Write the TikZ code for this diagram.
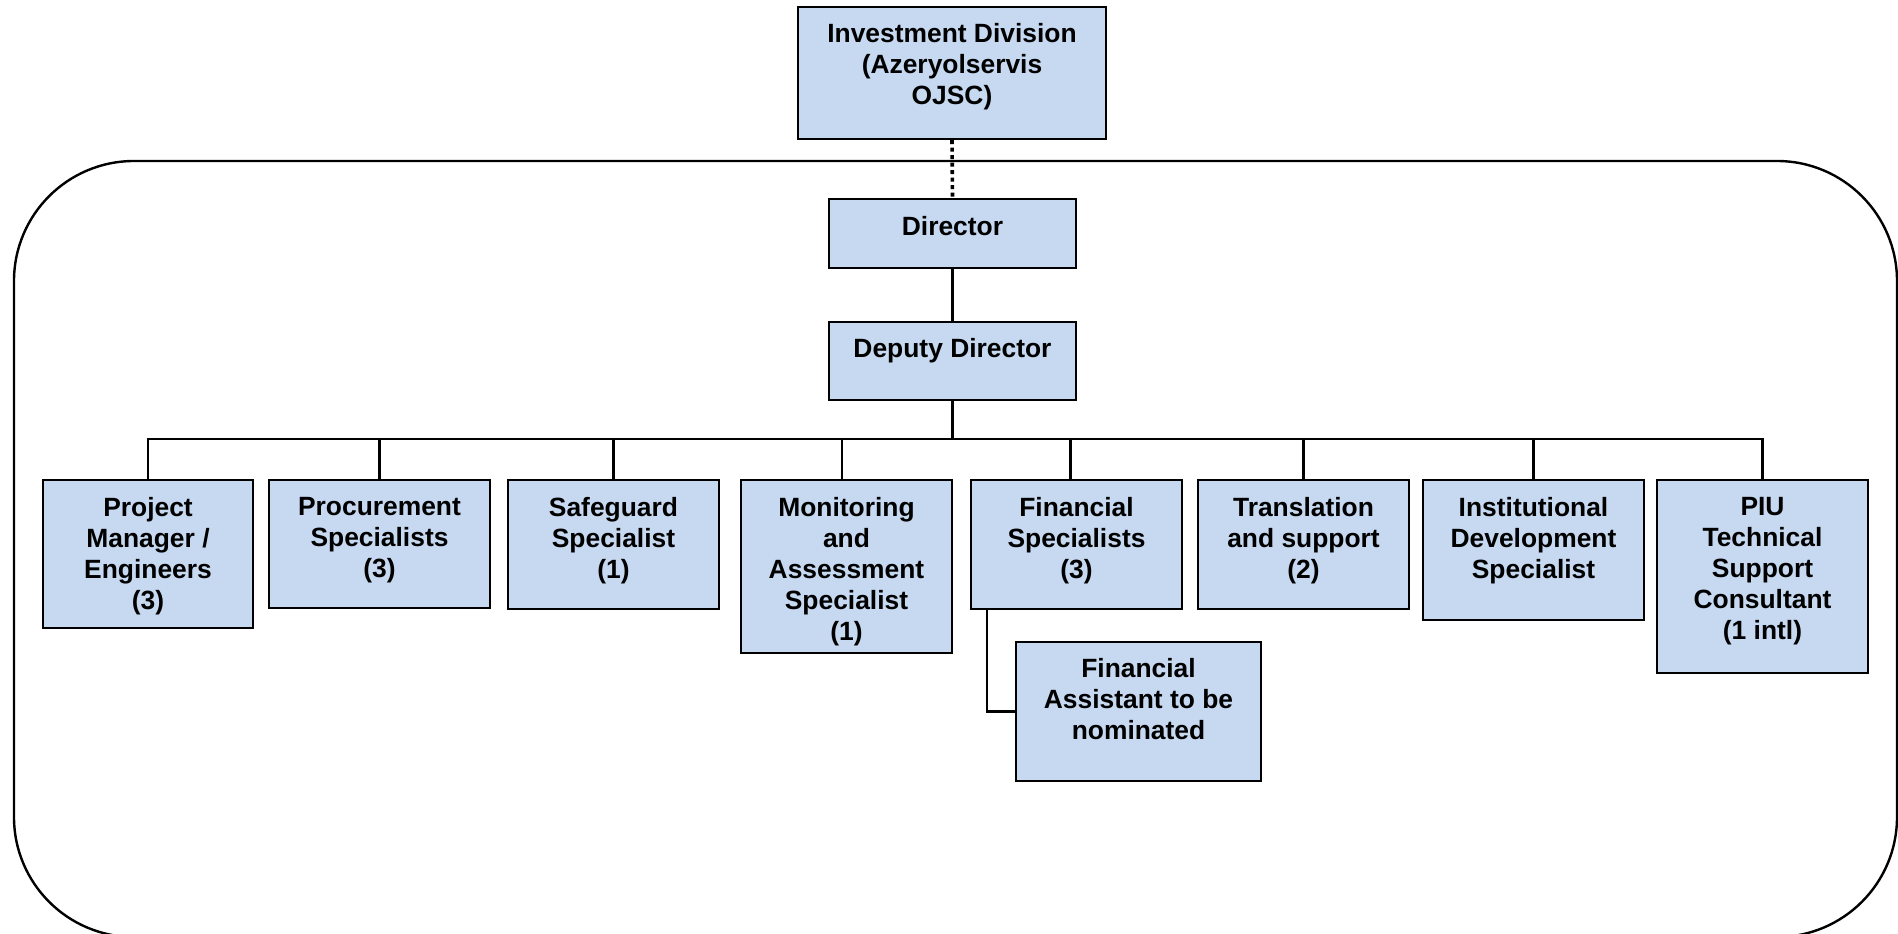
\documentclass[tikz,border=0pt]{standalone}
\usepackage{fontspec}
\setmainfont{Liberation Sans}
\usetikzlibrary{fit}
\definecolor{boxblue}{RGB}{198,217,241}
\begin{document}
\begin{tikzpicture}[x=1pt,y=-1pt,
  orgbox/.style={draw=black, line width=2.2pt, fill=boxblue, inner sep=0pt},
  orgtext/.style={anchor=north, inner sep=0pt, align=center,
    font=\bfseries\fontsize{26.4}{31}\selectfont},
  link/.style={line width=2.4pt},
  dotlink/.style={line width=3.6pt, dash pattern=on 4pt off 3.5pt}]
\useasboundingbox (0,0) rectangle (1898,934);

% frame
\draw[line width=2.4pt, rounded corners=120pt] (14,161) rectangle (1897,937);

% boxes
\node[orgbox, fit={(798,7) (1106,139)}] (inv) {};
\node[orgbox, fit={(829,199) (1076,268)}] (dir) {};
\node[orgbox, fit={(829,322) (1076,400)}] (dep) {};
\node[orgbox, fit={(43,480) (253,628)}] (pm) {};
\node[orgbox, fit={(269,480) (490,608)}] (proc) {};
\node[orgbox, fit={(508,480) (719,609)}] (safe) {};
\node[orgbox, fit={(741,480) (952,653)}] (mon) {};
\node[orgbox, fit={(971,480) (1182,609)}] (fin) {};
\node[orgbox, fit={(1198,480) (1409,609)}] (trans) {};
\node[orgbox, fit={(1423,480) (1644,620)}] (inst) {};
\node[orgbox, fit={(1657,480) (1868,673)}] (piu) {};
\node[orgbox, fit={(1016,642) (1261,781)}] (fa) {};

% texts
\path (inv.north) ++(0,17) node[orgtext] (inv-t) {Investment Division\\(Azeryolservis\\OJSC)};
\path (dir.north) ++(0,18) node[orgtext] (dir-t) {Director};
\path (dep.north) ++(0,17) node[orgtext] (dep-t) {Deputy Director};
\path (pm.north) ++(0,18) node[orgtext] (pm-t) {Project\\Manager /\\Engineers\\(3)};
\path (proc.north) ++(0,18) node[orgtext] (proc-t) {Procurement\\Specialists\\(3)};
\path (safe.north) ++(0,18) node[orgtext] (safe-t) {Safeguard\\Specialist\\(1)};
\path (mon.north) ++(0,18) node[orgtext] (mon-t) {Monitoring\\and\\Assessment\\Specialist\\(1)};
\path (fin.north) ++(0,18) node[orgtext] (fin-t) {Financial\\Specialists\\(3)};
\path (trans.north) ++(0,18) node[orgtext] (trans-t) {Translation\\and support\\(2)};
\path (inst.north) ++(0,18) node[orgtext] (inst-t) {Institutional\\Development\\Specialist};
\path (piu.north) ++(0,18) node[orgtext] (piu-t) {PIU\\Technical\\Support\\Consultant\\(1 intl)};
\path (fa.north) ++(0,17) node[orgtext] (fa-t) {Financial\\Assistant to be\\nominated};

% connectors
\draw[dotlink] (inv.south) -- (dir.north);
\draw[link] (dir.south) -- (dep.north);
\coordinate (busL) at (147,439);
\coordinate (busR) at (1764,439);
\draw[link] (busL) -- (busR);
\draw[link] (dep.south) -- (dep.south |- busL);
\draw[link] (pm.north) -- (pm.north |- busL);
\draw[link] (proc.north) -- (proc.north |- busL);
\draw[link] (safe.north) -- (safe.north |- busL);
\draw[link] ([xshift=-4.5pt]mon.north) -- ([xshift=-4.5pt]mon.north |- busL);
\draw[link] ([xshift=-6pt]fin.north) -- ([xshift=-6pt]fin.north |- busL);
\draw[link] (trans.north) -- (trans.north |- busL);
\draw[link] (inst.north) -- (inst.north |- busL);
\draw[link] (piu.north) -- (piu.north |- busL);
\draw[link] ([xshift=-89.5pt]fin.south) |- (fa.west);
\end{tikzpicture}
\end{document}
